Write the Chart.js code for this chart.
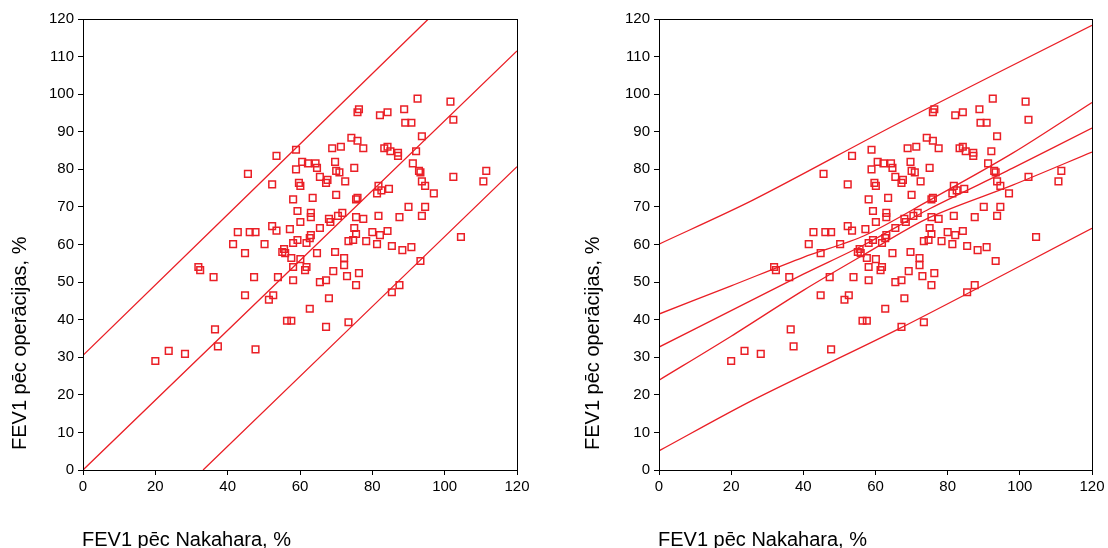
<!DOCTYPE html>
<html>
<head>
<meta charset="utf-8">
<script src="https://cdn.jsdelivr.net/npm/chart.js@4.4.1/dist/chart.umd.min.js"></script>
<style>
  body { margin: 0; background: #fff; }
  .wrap { display: flex; width: 1108px; height: 548px; }
  canvas { display: block; }
</style>
</head>
<body>
<div class="wrap">
  <canvas id="leftChart" width="554" height="548"></canvas>
  <canvas id="rightChart" width="554" height="548"></canvas>
</div>
<script>
// ---------------- DATA ----------------
const nakahara = [20.0,23.7,28.2,31.9,32.4,36.1,36.5,37.3,41.5,42.8,44.8,45.6,46.1,47.7,47.3,44.8,47.7,50.2,51.4,52.6,
  52.3,53.5,52.3,53.5,53.9,55.1,55.6,55.9,56.4,57.6,57.2,57.6,58.1,58.1,58.1,58.1,58.9,58.9,59.3,59.3,
  59.7,60.1,60.1,60.1,60.6,62.2,64.3,64.7,63.5,63.0,63.0,63.0,62.7,61.8,61.8,61.4,62.7,64.7,65.5,65.5,
  67.2,67.6,65.5,67.2,68.0,67.2,68.0,68.4,69.2,69.7,69.7,70.0,70.9,70.0,68.9,71.3,70.5,71.7,72.2,72.2,
  73.0,72.5,74.2,75.9,75.9,76.3,75.0,75.5,75.9,75.5,77.5,77.5,75.0,75.5,74.7,73.4,76.3,75.5,73.4,78.3,
  80.0,81.3,82.1,81.7,84.2,85.4,87.5,88.3,90.8,90.0,93.7,94.6,93.3,87.5,85.4,81.3,81.7,82.5,84.6,82.1,
  84.2,83.3,84.2,85.0,87.1,87.1,88.8,89.1,90.8,92.5,93.7,92.1,91.2,92.9,93.3,93.7,94.6,97.0,101.6,102.4,
  102.4,104.5,110.7,111.5];
const operacijas = [29.0,31.7,30.9,54.0,53.2,51.3,37.4,32.9,60.1,63.3,57.7,78.8,63.3,63.3,51.3,46.5,32.1,60.1,45.3,46.5,
  76.0,83.6,64.9,63.7,51.3,58.0,58.8,57.7,39.7,39.7,64.1,56.4,72.0,60.4,54.0,50.5,85.2,80.0,68.9,61.2,
  76.4,75.6,66.0,56.1,82.0,81.6,81.6,80.4,72.4,68.4,67.3,62.5,61.7,60.4,54.0,53.2,42.9,57.7,64.4,78.0,
  76.4,77.2,50.0,50.5,45.7,38.1,66.8,66.0,52.9,58.0,82.0,79.6,79.2,73.2,85.6,86.0,67.6,68.4,56.4,54.5,
  51.6,76.8,88.4,87.6,95.2,96.0,80.4,72.0,72.4,67.3,66.8,85.6,64.4,62.8,61.2,60.9,52.4,49.2,39.3,60.9,
  63.3,60.1,62.5,67.6,63.6,59.6,67.3,58.5,59.3,70.0,67.6,70.0,55.6,49.2,47.3,73.6,75.6,74.4,74.8,94.4,
  95.2,85.6,86.0,84.8,84.4,83.6,96.0,92.4,92.4,98.8,88.8,84.8,81.6,79.6,79.2,76.8,75.6,73.6,98.0,93.2,
  78.0,62.0,76.8,79.6];

// left panel: line of agreement and limits
const leftFitX = [0, 120];
const leftFitY = [0, 111.5];
const leftUpperX = [0, 95.5];
const leftUpperY = [30.5, 120];
const leftLowerX = [33.2, 120];
const leftLowerY = [0, 80.7];

// right panel: regression, confidence band, prediction band
const bandX = [0, 20, 40, 57, 75, 98, 120];
const fitY = [32.7, 42.4, 52.1, 60.0, 69.5, 80.3, 91.0];
const confUpperY = [41.5, 49.0, 56.6, 62.4, 71.8, 84.3, 97.8];
const confLowerY = [23.9, 35.6, 47.8, 57.4, 67.2, 75.8, 84.6];
const predX = [0, 26, 67, 120];
const predUpperY = [60.1, 71.8, 92.6, 118.3];
const predLowerY = [5.1, 18.6, 37.8, 64.3];

const xTitle = "FEV1 pēc Nakahara, %";
const yTitle = "FEV1 pēc operācijas, %";

const RED = "#ea1f26";
const FONT = "Arial, 'Liberation Sans', sans-serif";

// ---------------- HELPERS ----------------
const toPts = (xs, ys) => xs.map((x, i) => ({ x, y: ys[i] }));

function lineSet(xs, ys) {
    return {
        type: "line",
        data: toPts(xs, ys),
        borderColor: RED,
        borderWidth: 1.3,
        pointRadius: 0,
        fill: false,
        tension: 0.3
    };
}

// frame + axis titles
const framePlugin = {
    id: "frame",
    afterDraw(chart, args, opts) {
        const { ctx, chartArea: a } = chart;
        ctx.save();
        ctx.strokeStyle = "#000";
        ctx.lineWidth = 1;
        ctx.strokeRect(Math.round(a.left) + 0.5, Math.round(a.top) + 0.5,
            Math.round(a.right - a.left), Math.round(a.bottom - a.top));

        ctx.fillStyle = "#000";
        ctx.font = "20px " + FONT;
        ctx.textBaseline = "alphabetic";
        ctx.textAlign = "left";
        ctx.fillText(xTitle, a.left - 1, 546);

        ctx.translate(opts.yTitleX, 450);
        ctx.rotate(-Math.PI / 2);
        ctx.fillText(yTitle, 0, 0);
        ctx.restore();
    }
};

function makeChart(id, lines, axisWidth, padRight, yTitleX) {
    return new Chart(document.getElementById(id), {
        type: "scatter",
        data: {
            datasets: [
                {
                    data: toPts(nakahara, operacijas),
                    pointStyle: "rect",
                    pointRadius: 4.7,
                    pointBorderWidth: 1.5,
                    pointBorderColor: RED,
                    pointBackgroundColor: "rgba(0,0,0,0)"
                },
                ...lines
            ]
        },
        options: {
            responsive: false,
            animation: false,
            layout: { padding: { top: 19, right: padRight, bottom: 0, left: 0 } },
            plugins: {
                legend: { display: false },
                tooltip: { enabled: false },
                frame: { yTitleX }
            },
            scales: {
                x: {
                    type: "linear",
                    min: 0, max: 120,
                    afterFit: s => { s.height = 78; },
                    border: { display: false },
                    grid: { drawOnChartArea: false, tickLength: 5, color: "#000" },
                    ticks: { stepSize: 20, padding: 3, color: "#000", font: { family: FONT, size: 15 } }
                },
                y: {
                    type: "linear",
                    min: 0, max: 120,
                    afterFit: s => { s.width = axisWidth; },
                    border: { display: false },
                    grid: { drawOnChartArea: false, tickLength: 5, color: "#000" },
                    ticks: { stepSize: 10, padding: 4, color: "#000", font: { family: FONT, size: 15 } }
                }
            }
        },
        plugins: [framePlugin]
    });
}

// ---------------- INIT ----------------
makeChart("leftChart", [
    lineSet(leftFitX, leftFitY),
    lineSet(leftUpperX, leftUpperY),
    lineSet(leftLowerX, leftLowerY)
], 83, 37, 26);

makeChart("rightChart", [
    lineSet(predX, predUpperY),
    lineSet(bandX, confUpperY),
    lineSet(bandX, fitY),
    lineSet(bandX, confLowerY),
    lineSet(predX, predLowerY)
], 105, 16, 45);
</script>
</body>
</html>
